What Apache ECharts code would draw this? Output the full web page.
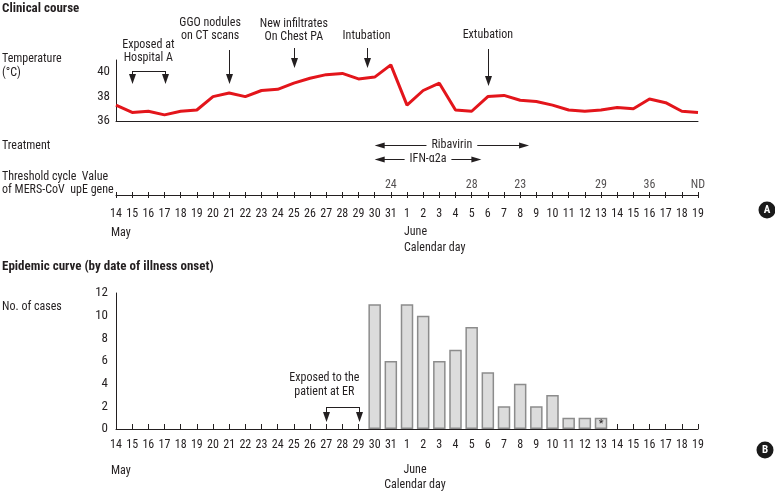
<!DOCTYPE html>
<html><head><meta charset="utf-8">
<script src="https://cdn.jsdelivr.net/npm/echarts@6/dist/echarts.min.js"></script>
<style>html,body{margin:0;padding:0;background:#fff}#c{width:775px;height:493px}</style>
</head><body><div id="c"></div>
<script>
// ---------- data ----------
const calendarDays = [
  'May 14','May 15','May 16','May 17','May 18','May 19','May 20','May 21','May 22','May 23',
  'May 24','May 25','May 26','May 27','May 28','May 29','May 30','May 31',
  'Jun 1','Jun 2','Jun 3','Jun 4','Jun 5','Jun 6','Jun 7','Jun 8','Jun 9','Jun 10',
  'Jun 11','Jun 12','Jun 13','Jun 14','Jun 15','Jun 16','Jun 17','Jun 18','Jun 19'
];
const temperatureValues = [
  37.3, 36.7, 36.8, 36.5, 36.8, 36.9, 38.0, 38.3, 38.0, 38.5,
  38.6, 39.1, 39.5, 39.8, 39.9, 39.45, 39.6, 40.6,
  37.3, 38.5, 39.1, 36.9, 36.8, 38.0, 38.1, 37.7, 37.6, 37.3,
  36.9, 36.8, 36.9, 37.1, 37.0, 37.8, 37.5, 36.8, 36.7
];
const temperatureTicks = [36, 38, 40];
const thresholdDates = ['May 31','Jun 5','Jun 8','Jun 13','Jun 16','Jun 19'];
const thresholdValues = ['24','28','23','29','36','ND'];
const caseDates = ['May 30','May 31','Jun 1','Jun 2','Jun 3','Jun 4','Jun 5','Jun 6','Jun 7','Jun 8','Jun 9','Jun 10','Jun 11','Jun 12','Jun 13'];
const caseCounts = [11, 6, 11, 10, 6, 7, 9, 5, 2, 4, 2, 3, 1, 1, 1];
const asteriskDates = ['Jun 13'];
const hospitalExposureDates = ['May 15','May 17'];
const erExposureDates = ['May 27','May 29'];
const ggoDate = 'May 21';
const infiltrateDate = 'May 25';
const intubationPos = 15.5;      // between May 29 and May 30
const extubationDate = 'Jun 6';
const ribavirinSpan = [16, 25.55];  // day positions
const ifnSpan = [16, 22.6];

// ---------- helpers ----------
const idx = d => calendarDays.indexOf(d);
const tickLabels = calendarDays.map(d => d.split(' ')[1]);
const FONT = "'Liberation Sans Narrow','Arial Narrow','Roboto Condensed','DejaVu Sans Condensed',sans-serif";
const INK = '#231f20';
const LEFT = 116, WIDTH = 582;

const xBase = (gridIndex, extra) => Object.assign({
  type: 'value', gridIndex, min: 0, max: calendarDays.length - 1, interval: 1,
  position: 'bottom',
  axisLine: { show: true, onZero: false, lineStyle: { color: INK, width: 1 } },
  axisTick: { show: false }, axisLabel: { show: false }, splitLine: { show: false }
}, extra || {});

const option = {
  animation: false,
  backgroundColor: '#ffffff',
  textStyle: { fontFamily: FONT, color: INK },
  grid: [
    { left: LEFT, width: WIDTH, top: 60, height: 61 },
    { left: LEFT, width: WIDTH, top: 175, height: 20 },
    { left: LEFT, width: WIDTH, top: 293, height: 136 }
  ],
  xAxis: [
    xBase(0),
    xBase(1, {
      axisTick: { show: true, inside: true, length: 3, lineStyle: { color: INK } },
      axisLabel: { show: true, margin: 13, fontSize: 12, fontFamily: FONT, color: INK,
        formatter: v => tickLabels[v] || '' }
    }),
    xBase(2, {
      axisTick: { show: true, inside: true, length: 5, lineStyle: { color: INK } },
      axisLabel: { show: true, margin: 10, fontSize: 12, fontFamily: FONT, color: INK,
        formatter: v => tickLabels[v] || '' }
    }),
    xBase(1, {
      axisLine: { show: false, onZero: false },
      axisTick: { show: true, inside: false, length: 3, lineStyle: { color: INK } }
    })
  ],
  yAxis: [
    { type: 'value', gridIndex: 0, min: 36, max: 41, interval: 2,
      axisLine: { show: true, lineStyle: { color: INK } }, axisTick: { show: false },
      splitLine: { show: false },
      axisLabel: { fontSize: 13, fontFamily: FONT, color: INK, margin: 6,
        formatter: v => temperatureTicks.includes(v) ? String(v) : '' } },
    { type: 'value', gridIndex: 1, min: 0, max: 1, show: false },
    { type: 'value', gridIndex: 2, min: 0, max: 12, interval: 2,
      axisLine: { show: true, lineStyle: { color: INK } }, axisTick: { show: false },
      splitLine: { show: false },
      axisLabel: { fontSize: 13, fontFamily: FONT, color: INK, margin: 8 } }
  ],
  series: [
    { type: 'line', xAxisIndex: 0, yAxisIndex: 0, symbol: 'none', smooth: false,
      lineStyle: { color: '#e3151b', width: 3 },
      data: temperatureValues.map((t, i) => [i, t]) },
    { type: 'scatter', xAxisIndex: 1, yAxisIndex: 1, symbolSize: 1,
      itemStyle: { color: 'rgba(0,0,0,0)' },
      label: { show: true, position: 'inside', fontSize: 12, fontFamily: FONT, color: INK,
        formatter: p => p.value[2] },
      data: thresholdDates.map((d, i) => [idx(d), 0.5, thresholdValues[i]]) },
    { type: 'bar', xAxisIndex: 2, yAxisIndex: 2, barWidth: 12.5,
      itemStyle: { color: '#dcdcdc', borderColor: '#8c8c8c', borderWidth: 1.5 },
      data: caseDates.map((d, i) => {
        const item = { value: [idx(d), caseCounts[i]] };
        if (asteriskDates.includes(d)) {
          item.label = { show: true, formatter: '*', position: 'insideTop', distance: 1,
            fontSize: 11, fontFamily: FONT, color: INK };
        }
        return item;
      }) }
  ]
};

const chart = echarts.init(document.getElementById('c'), null, { renderer: 'canvas' });
chart.setOption(option);

// ---------- annotations ----------
const X = pos => chart.convertToPixel({ xAxisIndex: 0 }, pos);
const measure = (() => { const c = document.createElement('canvas').getContext('2d');
  return (s, size) => { c.font = size + 'px ' + FONT; return c.measureText(s).width; }; })();
const g = [];
function txt(s, x, y, opt) {
  opt = opt || {};
  g.push({ type: 'text', silent: true, x: x, y: y, style: {
    text: s, fill: opt.fill || INK, fontSize: opt.size || 12, fontFamily: FONT,
    fontWeight: opt.weight || 'normal', align: opt.align || 'center', verticalAlign: 'middle' } });
}
function ln(x1, y1, x2, y2) {
  g.push({ type: 'line', silent: true, shape: { x1, y1, x2, y2 }, style: { stroke: INK, lineWidth: 1 } });
}
function arrowDown(x, y0, tip) {
  ln(x, y0, x, tip - 8);
  g.push({ type: 'polygon', silent: true, shape: { points: [[x - 3.5, tip - 10], [x + 3.5, tip - 10], [x, tip]] }, style: { fill: INK } });
}
function arrowH(x, y, dir) { // dir -1 left, +1 right; x is tip
  g.push({ type: 'polygon', silent: true, shape: { points: [[x, y], [x - dir * 10, y - 3], [x - dir * 10, y + 3]] }, style: { fill: INK } });
}
function bracket(d1, d2, yLine, tip) {
  const a = Math.round(X(idx(d1))) + 0.5, b = Math.round(X(idx(d2))) + 0.5;
  ln(a, yLine + 0.5, b, yLine + 0.5);
  arrowDown(a, yLine, tip); arrowDown(b, yLine, tip);
}
function treatment(name, span, y) {
  const a = X(span[0]), b = X(span[1]), m = (a + b) / 2, hw = measure(name, 12) / 2 + 5;
  ln(a + 5, y + 0.5, m - hw, y + 0.5); arrowH(a, y + 0.5, -1);
  ln(m + hw, y + 0.5, b - 5, y + 0.5); arrowH(b, y + 0.5, 1);
  txt(name, m, y, { size: 12 });
}

// panel A
txt('Clinical course', 2, 9, { size: 13, weight: 'bold', align: 'left' });
txt('Temperature', 2, 59, { align: 'left' });
txt('(°C)', 2, 73, { align: 'left' });
const hA = (X(idx(hospitalExposureDates[0])) + X(idx(hospitalExposureDates[1]))) / 2;
txt('Exposed at', hA, 45); txt('Hospital A', hA, 58);
bracket(hospitalExposureDates[0], hospitalExposureDates[1], 71, 84);
txt('GGO nodules', X(idx(ggoDate)) - 19, 23); txt('on CT scans', X(idx(ggoDate)) - 19, 36);
arrowDown(Math.round(X(idx(ggoDate))) + 0.5, 50, 84);
txt('New infiltrates', X(idx(infiltrateDate)), 23.5); txt('On Chest PA', X(idx(infiltrateDate)), 36.5);
arrowDown(Math.round(X(idx(infiltrateDate))) + 0.5, 48, 68);
txt('Intubation', X(intubationPos), 36);
arrowDown(Math.round(X(intubationPos)) + 0.5, 48, 68);
txt('Extubation', X(idx(extubationDate)), 35);
arrowDown(Math.round(X(idx(extubationDate))) + 0.5, 49, 86);
txt('Treatment', 2, 146, { align: 'left' });
treatment('Ribavirin', ribavirinSpan, 145);
treatment('IFN-\u03b12a', ifnSpan, 159);
txt('Threshold cycle  Value', 2, 177, { align: 'left' });
txt('of MERS-CoV  upE gene', 2, 190, { align: 'left' });
txt('May', 111, 233, { align: 'left' });
txt('June', 404, 232, { align: 'left' });
txt('Calendar day', 404, 248, { align: 'left' });

// panel B
txt('Epidemic curve (by date of illness onset)', 2, 267, { size: 13, weight: 'bold', align: 'left' });
txt('No. of cases', 2, 307, { align: 'left' });
const hB = (X(idx(erExposureDates[0])) + X(idx(erExposureDates[1]))) / 2 - 18;
txt('Exposed to the', hB, 378); txt('patient at ER', hB, 392);
bracket(erExposureDates[0], erExposureDates[1], 407, 422);
txt('May', 111, 471, { align: 'left' });
txt('June', 415, 470);
txt('Calendar day', 415, 485);

// panel badges
[['A', 767, 210], ['B', 765, 450]].forEach(([s, x, y]) => {
  g.push({ type: 'circle', silent: true, shape: { cx: x, cy: y, r: 8.5 }, style: { fill: '#1a1a1a' } });
  txt(s, x, y + 0.5, { fill: '#ffffff', size: 11, weight: 'bold' });
});

chart.setOption({ graphic: g });
</script></body></html>
